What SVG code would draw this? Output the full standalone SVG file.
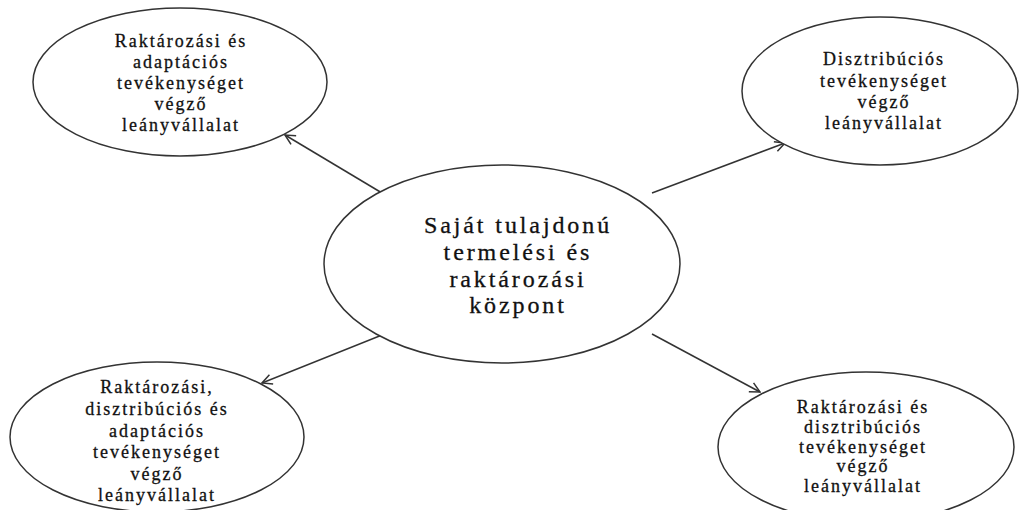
<svg xmlns="http://www.w3.org/2000/svg" width="1020" height="510" viewBox="0 0 1020 510">
<style>
.node ellipse{fill:#fff;stroke:#333;stroke-width:1.5}
.t{font-family:"Liberation Serif","Times New Roman",serif;font-size:18px;fill:#111;stroke:#111;stroke-width:0.3;text-anchor:middle;letter-spacing:2px}
.tc{font-family:"Liberation Serif","Times New Roman",serif;font-size:24px;fill:#111;stroke:#111;stroke-width:0.3;text-anchor:middle;letter-spacing:2.9px}
.edge{stroke:#333;stroke-width:1.5;fill:none;marker-end:url(#arr)}
</style>
<defs>
<marker id="arr" viewBox="0 0 12 12" refX="11" refY="6" markerWidth="12" markerHeight="12" markerUnits="userSpaceOnUse" orient="auto">
<path d="M1,1 L11,6 L1,11" fill="none" stroke="#333" stroke-width="1.5"/>
</marker>
</defs>
<rect width="1020" height="510" fill="#fff"/>
<g id="connectors">
<line class="edge" x1="382" y1="193" x2="285" y2="135"/>
<line class="edge" x1="652" y1="193" x2="785" y2="143"/>
<line class="edge" x1="382" y1="335" x2="262" y2="383"/>
<line class="edge" x1="652" y1="334" x2="760" y2="392"/>
</g>
<g id="center" class="node">
<ellipse cx="502" cy="264" rx="178" ry="99"/>
<text class="tc" x="518" y="233">Saját tulajdonú</text>
<text class="tc" x="518" y="260">termelési és</text>
<text class="tc" x="518" y="287">raktározási</text>
<text class="tc" x="518" y="313">központ</text>
</g>
<g id="top-left" class="node">
<ellipse cx="180" cy="82" rx="147" ry="74"/>
<text class="t" x="181" y="47">Raktározási és</text>
<text class="t" x="181" y="68">adaptációs</text>
<text class="t" x="181" y="89">tevékenységet</text>
<text class="t" x="181" y="110">végző</text>
<text class="t" x="181" y="131">leányvállalat</text>
</g>
<g id="top-right" class="node">
<ellipse cx="880" cy="91" rx="138" ry="74"/>
<text class="t" x="884" y="65">Disztribúciós</text>
<text class="t" x="884" y="87">tevékenységet</text>
<text class="t" x="884" y="108">végző</text>
<text class="t" x="884" y="129">leányvállalat</text>
</g>
<g id="bottom-left" class="node">
<ellipse cx="157" cy="437" rx="147" ry="75"/>
<text class="t" x="157" y="393">Raktározási,</text>
<text class="t" x="157" y="415">disztribúciós és</text>
<text class="t" x="157" y="437">adaptációs</text>
<text class="t" x="157" y="458">tevékenységet</text>
<text class="t" x="157" y="480">végző</text>
<text class="t" x="157" y="501">leányvállalat</text>
</g>
<g id="bottom-right" class="node">
<ellipse cx="866" cy="447" rx="148" ry="75"/>
<text class="t" x="863" y="413">Raktározási és</text>
<text class="t" x="863" y="433">disztribúciós</text>
<text class="t" x="863" y="453">tevékenységet</text>
<text class="t" x="863" y="472">végző</text>
<text class="t" x="863" y="492">leányvállalat</text>
</g>
</svg>
